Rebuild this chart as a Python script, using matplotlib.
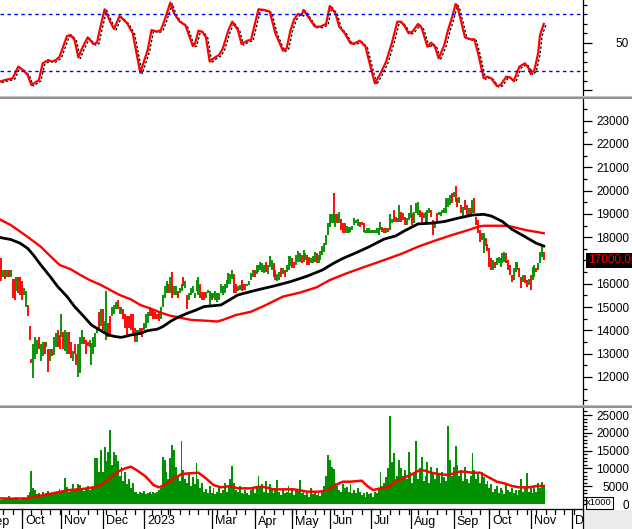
import numpy as np
import pandas as pd
import matplotlib
matplotlib.use('Agg')
import matplotlib.pyplot as plt
from matplotlib.transforms import blended_transform_factory, offset_copy
from matplotlib.patches import Rectangle
from matplotlib.lines import Line2D

plt.rcParams['font.family'] = ['Liberation Sans', 'DejaVu Sans']

# ---------------- data ----------------
holidays = ['2022-09-01', '2022-09-02', '2023-01-02', '2023-01-20', '2023-01-23',
            '2023-01-24', '2023-01-25', '2023-01-26', '2023-05-01', '2023-05-02',
            '2023-05-03', '2023-09-01', '2023-09-04']
first_bar = '2022-09-15'

tick_months = ['2022-09', '2022-10', '2022-11', '2022-12', '2023-01', '2023-03', '2023-04',
               '2023-05', '2023-06', '2023-07', '2023-08', '2023-09', '2023-10', '2023-11', '2023-12']
month_labels = ['Sep', 'Oct', 'Nov', 'Dec', '2023', 'Mar', 'Apr', 'May', 'Jun', 'Jul',
                'Aug', 'Sep', 'Oct', 'Nov', 'Dec']

# price bars, thousands VND
low_k = [
    16.2, 16.1, 16.3, 16.2, 16.3, 16.3, 16.3, 15.4, 15.3, 15.7,
    15.6, 15.5, 15.3, 15.5, 15.0, 14.6, 13.6, 12.6, 11.94, 12.75,
    13.0, 13.2, 12.7, 12.9, 13.0, 13.3, 12.2, 12.7, 12.9, 12.95,
    13.3, 13.3, 13.2, 13.7, 13.2, 13.1, 13.0, 13.0, 12.8, 12.7,
    13.0, 12.5, 12.0, 12.15, 13.4, 13.4, 13.0, 13.35, 13.3, 12.5,
    13.0, 13.3, 13.9, 14.1, 14.2, 14.0, 13.9, 13.6, 13.7, 13.8,
    14.6, 14.7, 14.9, 14.9, 14.7, 14.7, 14.5, 14.1, 13.8, 14.1,
    14.0, 13.9, 13.5, 13.5, 13.8, 13.8, 13.7, 14.0, 14.1, 14.3,
    14.6, 14.6, 14.5, 14.5, 14.5, 14.4, 14.5, 15.0, 15.4, 15.6,
    15.6, 15.6, 15.4, 15.5, 15.5, 15.4, 15.6, 15.7, 15.9, 15.8,
    14.9, 15.3, 15.5, 15.6, 15.4, 15.7, 15.5, 15.4, 15.3, 15.3,
    15.4, 15.6, 15.1, 15.3, 15.4, 15.3, 15.2, 15.3, 15.6, 15.5,
    15.6, 15.8, 16.0, 16.0, 16.2, 15.6, 15.6, 15.7, 15.75, 15.7,
    15.75, 15.75, 15.9, 15.95, 16.16, 16.3, 16.3, 16.4, 16.5, 16.6,
    16.5, 16.45, 16.5, 16.4, 16.7, 16.6, 16.3, 16.16, 16.1, 16.16,
    16.3, 16.4, 16.3, 16.5, 16.6, 16.75, 16.66, 16.66, 16.8, 16.95,
    16.95, 16.88, 16.95, 17.0, 16.8, 16.8, 16.88, 16.9, 16.95, 16.88,
    16.88, 17.0, 17.23, 17.38, 17.67, 18.1, 18.45, 18.6, 18.6, 18.45,
    18.6, 18.6, 18.3, 18.2, 18.2, 18.2, 18.16, 18.24, 18.3, 18.52,
    18.6, 18.5, 18.45, 18.52, 18.24, 18.16, 18.2, 18.16, 18.16, 18.16,
    18.16, 18.2, 18.1, 18.3, 18.24, 18.17, 18.17, 18.24, 18.3, 18.6,
    18.67, 18.67, 18.67, 18.67, 18.67, 18.74, 18.52, 18.52, 18.74, 18.81,
    18.52, 18.6, 19.02, 18.95, 18.88, 18.67, 18.81, 18.6, 18.67, 19.02,
    18.88, 18.1, 18.38, 18.67, 18.95, 18.9, 19.02, 19.02, 19.02, 19.3,
    19.38, 19.45, 19.74, 19.52, 19.31, 19.45, 19.02, 18.88, 19.17, 18.95,
    18.95, 18.95, 19.02, 19.02, 18.52, 18.17, 17.81, 17.88, 17.3, 17.6,
    17.4, 16.74, 16.59, 16.59, 16.66, 16.81, 16.88, 16.74, 16.88, 16.95,
    16.88, 16.59, 16.38, 16.09, 16.16, 16.52, 16.59, 16.31, 15.81, 16.09,
    16.02, 15.88, 15.95, 15.73, 16.16, 16.31, 16.52, 16.59, 16.88, 17.16,
    17.0]
high_k = [
    17.8, 17.1, 16.6, 16.6, 16.6, 16.6, 16.6, 16.2, 16.2, 16.3,
    16.3, 16.3, 16.1, 15.8, 15.7, 15.1, 14.2, 12.75, 13.4, 13.7,
    13.6, 13.7, 13.4, 13.5, 13.5, 13.5, 13.2, 13.2, 13.2, 13.7,
    13.9, 14.0, 13.8, 14.7, 13.95, 14.0, 13.95, 13.95, 13.5, 13.1,
    13.4, 13.0, 13.4, 13.7, 14.0, 13.7, 13.6, 13.5, 13.6, 13.45,
    13.7, 13.9, 14.1, 14.8, 14.9, 14.9, 14.4, 15.7, 14.3, 14.6,
    15.0, 15.1, 15.2, 15.3, 15.0, 15.0, 14.9, 14.7, 14.6, 14.6,
    14.7, 14.7, 14.1, 14.0, 14.0, 14.1, 14.1, 14.3, 14.7, 14.8,
    15.0, 14.9, 14.9, 14.8, 14.7, 14.8, 15.0, 15.5, 15.9, 16.1,
    16.0, 16.3, 16.5, 15.9, 15.9, 15.7, 15.8, 16.0, 16.3, 16.1,
    15.5, 15.6, 15.8, 15.9, 15.6, 16.16, 16.3, 16.0, 15.65, 15.65,
    15.65, 15.75, 15.7, 15.6, 15.6, 15.7, 15.6, 15.6, 16.0, 15.9,
    16.0, 16.16, 16.45, 16.4, 16.6, 16.4, 16.0, 15.9, 15.95, 16.16,
    16.0, 16.0, 16.0, 16.1, 16.45, 16.6, 16.6, 16.8, 16.8, 16.95,
    16.9, 16.8, 16.95, 16.8, 17.2, 17.0, 16.9, 16.6, 16.4, 16.5,
    16.66, 16.66, 16.6, 16.8, 17.2, 17.2, 17.1, 16.95, 17.25, 17.4,
    17.3, 17.23, 17.45, 17.3, 17.23, 17.16, 17.09, 17.2, 17.38, 17.3,
    17.23, 17.4, 17.6, 17.74, 18.1, 18.6, 19.0, 19.0, 19.9, 19.0,
    19.0, 19.1, 18.8, 18.6, 18.6, 18.5, 18.45, 18.45, 18.5, 18.81,
    18.74, 18.8, 18.67, 18.67, 18.6, 18.3, 18.4, 18.38, 18.3, 18.3,
    18.3, 18.4, 18.38, 18.67, 18.45, 18.38, 18.38, 18.38, 19.0, 18.8,
    19.17, 18.88, 18.81, 19.38, 19.1, 19.02, 18.88, 18.81, 19.02, 19.38,
    19.02, 19.1, 19.45, 19.52, 19.17, 19.1, 19.02, 19.1, 19.17, 19.24,
    19.17, 18.74, 18.67, 19.02, 19.1, 19.1, 19.17, 19.24, 19.67, 19.7,
    19.8, 19.88, 19.95, 20.2, 19.67, 19.74, 19.38, 19.31, 19.6, 19.38,
    19.24, 19.24, 19.6, 19.67, 18.88, 18.74, 18.3, 18.17, 18.17, 17.95,
    17.7, 17.52, 17.09, 17.02, 16.95, 17.09, 17.16, 17.09, 17.3, 17.38,
    17.3, 17.02, 16.81, 16.38, 16.66, 16.95, 16.95, 16.66, 16.31, 16.38,
    16.38, 16.16, 16.2, 16.38, 16.74, 16.81, 16.66, 16.88, 17.38, 17.6,
    17.38]
bar_dir = ("rrgrgrgrrg" "rrrggrrrgg" "grggrgrgrg" "grrgrggrrg" "rrgggrrrgg"
           "gggrgrggrr" "gggrggrrrr" "rrrggrrggg" "rrrrrrgggg" "rgrggrggrg"
           "rggggggrrr" "gggrgggggg" "gggggrrggr" "rrggggrggg" "ggrgggrrgg"
           "rgrgggrrgg" "grggrrgggr" "ggggggggrg" "rgrrrggggg" "ggrrrggggg"
           "ggggrrgrgg" "rgrgrrrggg" "rgggrrgrgg" "rrgrgggggg" "grgrrgrgrr"
           "grgrrrrggr" "rrrgrggggg" "rrrrgggrrg" "rrgrggrggg" "r")
last_close = 17000

# moving averages on price (bar index, thousands)
ma_black_idx = [0, 6, 11, 15, 18, 22, 27, 31, 36, 40, 45, 49, 54, 58, 62, 65, 70, 75, 79, 84, 87,
                91, 95, 100, 104, 109, 118, 127, 137, 146, 155, 164, 172, 178, 183, 190, 197,
                205, 211, 216, 223, 230, 237, 244, 252, 258, 262, 268, 273, 280, 286, 290]
ma_black_k = [17.99, 17.9, 17.74, 17.52, 17.24, 16.81, 16.31, 15.88, 15.45, 15.02, 14.59, 14.23,
              13.99, 13.80, 13.73, 13.70, 13.80, 13.87, 13.99, 14.05, 14.16, 14.38, 14.56, 14.73,
              14.85, 15.02, 15.09, 15.52, 15.73, 15.9, 16.09, 16.33, 16.59, 16.88, 17.09, 17.33,
              17.59, 17.92, 18.05, 18.28, 18.57, 18.6, 18.67, 18.81, 18.95, 18.98, 18.91, 18.67,
              18.34, 18.02, 17.74, 17.62]
ma_red_idx = [0, 6, 11, 16, 22, 27, 32, 38, 43, 48, 54, 59, 64, 70, 75, 80, 86, 91, 96, 102, 109,
              116, 119, 126, 134, 142, 151, 160, 169, 176, 185, 194, 205, 214, 223, 232, 241,
              250, 255, 258, 269, 273, 280, 290]
ma_red_k = [18.77, 18.52, 18.24, 17.95, 17.59, 17.19, 16.81, 16.62, 16.38, 16.16, 15.95, 15.73,
            15.52, 15.33, 15.09, 14.95, 14.76, 14.63, 14.55, 14.45, 14.42, 14.38, 14.45, 14.66,
            14.80, 15.09, 15.45, 15.62, 15.85, 16.16, 16.45, 16.71, 17.02, 17.28, 17.59, 17.85,
            18.09, 18.31, 18.45, 18.49, 18.49, 18.45, 18.31, 18.17]

# volume (x1000)
volume = (
    [1500, 1200, 1800, 1400, 1300, 2200, 1500, 1600, 1400, 2000, 1800, 1200, 1500, 1700, 1300, 2400]
    + [3500, 9200, 4500]
    + [3800, 2800, 3000, 2600, 3300, 2500, 3000, 3600, 2800, 3200, 2700, 3500, 3000, 4200, 3400]
    + [3800, 7400, 4800, 3500, 4200, 5500, 3900, 4600, 5600, 5400, 4300, 3600, 4100, 5200, 3800, 4500, 5000]
    + [12800, 13000, 9000, 15300, 9000, 16000, 12000, 14500, 20800, 11000, 14700, 13700, 12000, 8000,
       10500, 6500, 9000, 5500, 7000, 4500, 6000, 3500]
    + [3300, 2800, 3500, 3000, 3600, 2700, 3200, 3400, 2900, 3500, 3100, 3300, 3800, 4500]
    + [13300, 12500, 9000, 7000, 13000, 16500, 15200, 10500, 8000, 6500, 17800, 9500, 7000, 6000, 8500,
       5000, 7500, 5500, 11400, 7000, 4500, 5800, 3500, 4200, 3000, 5000]
    + [3000, 4500, 2800, 3500, 5200, 3000, 4000, 6000, 3500, 4800, 7000, 10700, 6000]
    + [4000, 3500, 5000, 3000, 2700, 4000, 3200, 2500, 3800, 4500, 3000, 5000]
    + [7900, 4500, 5500, 3500, 6500, 3000, 5500, 4000, 3000, 4500, 6800, 3500, 2500, 4000, 3000, 3500, 5000]
    + [3000, 4500, 2500, 3800, 4200, 6700, 3000, 3500]
    + [2500, 3000, 2000, 4500, 2800, 3500, 2500, 3000, 2200, 3500]
    + [5000, 8000, 13800, 12400, 10500, 9800, 6000, 5000, 4000, 3500, 5500, 4500, 4800, 3500, 5500,
       3200, 4000, 3000, 4500, 3500]
    + [2500, 3200, 2000, 3500, 2800, 3000, 2000, 3500, 3000, 4500]
    + [9100, 5000, 6000, 7500, 10000, 24700, 11900, 14200, 7000, 8000, 12500, 10000, 8000, 9500, 7000,
       14700, 9000, 6000, 8500, 17700, 7000, 10000, 13300, 6500, 8000, 11900, 6000, 10500, 9000, 7000,
       10000, 8500, 6000, 9000, 7500, 6500, 21900, 12300, 8000, 10500, 16300, 11000, 8000, 9500, 6500,
       10500, 7000, 6000, 8000, 14200, 9500, 7000, 8500, 6000, 9000, 7500, 5500, 6500]
    + [4500, 5500, 3500, 4200, 5000, 3000, 4500, 3800, 2800, 5300, 4000, 3500, 4500, 3000, 4000, 2500,
       3800, 7000, 3500, 4500, 8600, 3500, 4500, 3000, 5000, 3500, 6000, 4500, 6300, 5000])

vol_ma_idx = [0, 7, 15, 18, 24, 30, 37, 43, 50, 54, 58, 63, 67, 70, 73, 78, 82, 85, 88, 93, 97, 101,
              106, 110, 114, 118, 123, 127, 134, 138, 142, 146, 151, 157, 164, 170, 174, 179, 183,
              187, 193, 196, 199, 203, 207, 211, 215, 219, 224, 227, 230, 234, 239, 242, 245, 248,
              252, 256, 260, 265, 269, 273, 277, 282, 286, 290]
vol_ma = [1590, 1500, 1590, 2060, 2530, 3180, 3930, 4120, 4680, 5340, 6740, 9080, 10020, 10480,
          9550, 7680, 5340, 4680, 5340, 7210, 8420, 8610, 8800, 7210, 5340, 4680, 5050, 4400, 4400,
          4870, 4680, 4120, 4120, 4120, 3460, 3460, 3740, 5340, 6270, 6270, 6550, 5050, 3930, 4400,
          4680, 6270, 7210, 8140, 9550, 9360, 8800, 8420, 8140, 8610, 9080, 9080, 8800, 8800, 7680,
          6270, 5800, 5050, 4680, 4680, 5050, 5050]

# RSI
rsi_idx = [0, 3, 7, 10, 13, 15, 17, 21, 23, 26, 28, 30, 32, 36, 38, 40, 42, 44, 47, 50,
           52, 53, 56, 59, 61, 64, 68, 71, 75, 79, 81, 84, 86, 88, 91, 93, 96, 99, 103, 104,
           106, 108, 110, 112, 114, 117, 119, 122, 124, 127, 129, 132, 134, 138, 141, 144, 147, 151, 153, 155,
           157, 159, 161, 162, 165, 168, 171, 174, 175, 176, 179, 181, 184, 187, 189, 192, 195, 197, 200, 203,
           206, 209, 212, 214, 216, 218, 220, 223, 225, 228, 230, 232, 234, 237, 239, 241, 243, 244, 246, 248,
           251, 253, 255, 258, 260, 262, 265, 267, 270, 272, 274, 277, 280, 282, 283, 285, 287, 288, 290]
rsi_val = [8.8, 10.6, 12.3, 24.7, 20.4, 15.9, 5.3, 10.6, 28.2, 31.7, 30.0, 31.7, 35.2, 57.1, 58.1, 52.9, 34.5, 44.0, 55.7, 48.6,
           50.0, 59.9, 85.3, 72.2, 64.5, 78.2, 70.5, 59.9, 18.3, 42.3, 63.4, 61.7, 63.4, 74.0, 92.3, 81.0, 72.2, 68.7, 46.5, 47.6,
           62.7, 61.7, 55.7, 30.0, 33.5, 37.0, 44.0, 63.4, 72.2, 63.4, 48.6, 52.1, 52.9, 85.3, 84.6, 82.8, 59.9, 41.6, 44.0, 62.7,
           74.7, 80.3, 79.3, 84.6, 75.8, 67.0, 67.0, 69.8, 79.3, 88.8, 81.0, 67.0, 59.9, 49.3, 49.3, 52.1, 45.8, 30.0, 7.0, 17.5,
           30.0, 49.3, 72.2, 72.2, 67.0, 59.9, 61.7, 69.8, 65.2, 45.8, 50.0, 45.8, 33.5, 47.6, 63.4, 75.8, 90.9, 88.1, 72.2, 55.7,
           53.6, 53.6, 38.8, 12.3, 14.1, 12.3, 4.2, 5.3, 14.1, 13.4, 9.5, 24.7, 28.2, 22.9, 16.9, 21.1, 38.8, 58.1, 69.8]
rsi_levels = [80, 20]

# ---------------- calendar ----------------
days = pd.bdate_range('2022-09-01', '2023-12-29')
days = days[~days.isin(pd.to_datetime(holidays))]
pos0 = days.get_loc(pd.Timestamp(first_bar))
day_pos = np.arange(len(days)) - pos0
n_bars = len(low_k)
x = np.arange(n_bars)

XL, XR = 0.27, 310.9

W, H = 632, 529
fig = plt.figure(figsize=(W / 100, H / 100), dpi=100)


def add_ax(top, bottom):
    return fig.add_axes([0, 1 - bottom / H, 583 / W, (bottom - top) / H])


ax_r = add_ax(0, 96)
ax_p = add_ax(99, 404)
ax_v = add_ax(408, 509)

GREEN = '#009000'
RED = '#ff0000'
FS = 8.5

for ax in (ax_r, ax_p, ax_v):
    ax.set_xlim(XL, XR)
    ax.set_xticks([])
    ax.yaxis.tick_right()
    for s in ('left', 'top', 'bottom'):
        ax.spines[s].set_visible(False)
    ax.spines['right'].set_linewidth(0.9)
    ax.tick_params(axis='y', which='major', direction='out', length=6.5, width=0.9,
                   pad=26.6, labelsize=FS, colors='black')
    ax.tick_params(axis='y', which='minor', direction='out', length=2.6, width=0.9)
    ax.patch.set_alpha(0)

# ---- RSI panel ----
ax_r.set_ylim(-6.3, 95.1)
ax_r.plot(rsi_idx, rsi_val, color='black', lw=0.9, ls=(0, (2, 1.5)),
          transform=offset_copy(ax_r.transData, fig, x=2, y=-1, units='dots'))
ax_r.plot(rsi_idx, rsi_val, color=RED, lw=1.6)
for lv in rsi_levels:
    ax_r.axhline(lv, color='#0000ff', lw=1.0, ls=(0, (2.5, 2.5)))
ax_r.set_yticks([0, 50])
ax_r.set_yticklabels(['', '50'])
ax_r.set_yticks([10, 20, 30, 40, 60, 70, 80, 90], minor=True)

# ---- price panel ----
lows = np.array(low_k) * 1000
highs = np.array(high_k) * 1000
cols = [GREEN if c == 'g' else RED for c in bar_dir]
ax_p.vlines(x, lows, highs, colors=cols, lw=1.35)
ax_p.plot(ma_red_idx, np.array(ma_red_k) * 1000, color=RED, lw=1.7)
ax_p.plot(ma_black_idx, np.array(ma_black_k) * 1000, color='black', lw=2.0)
ax_p.set_ylim(10840, 23930)
ax_p.set_yticks(np.arange(12000, 23001, 1000))
ax_p.set_yticks(np.arange(11000, 23600, 500), minor=True)
ax_p.text(588 / 583, last_close, f'{last_close:.2f}', color=RED, fontsize=FS,
          transform=blended_transform_factory(ax_p.transAxes, ax_p.transData),
          ha='left', va='center', clip_on=False,
          bbox=dict(facecolor='black', edgecolor='none', boxstyle='square,pad=0.15'))

# ---- volume panel ----
ax_v.bar(x, volume, width=1.0, color=GREEN, linewidth=0)
ax_v.plot(vol_ma_idx, vol_ma, color=RED, lw=1.8)
ax_v.set_ylim(-1400, 26970)
ax_v.set_yticks(np.arange(0, 25001, 5000))
ax_v.set_yticks(np.arange(0, 26001, 1000), minor=True)
ax_v.spines['bottom'].set_visible(True)
ax_v.spines['bottom'].set_linewidth(0.9)

for ax in (ax_r, ax_p, ax_v):
    for t in ax.get_yticklabels():
        t.set_horizontalalignment('right')

# ---- date axis ----
bt = blended_transform_factory(ax_v.transData, ax_v.transAxes)
month_pos = []
for m in tick_months:
    y, mo = int(m[:4]), int(m[5:])
    sel = (days.year == y) & (days.month == mo)
    month_pos.append(day_pos[np.argmax(sel)])
week_key = days.to_period('W')
week_first = day_pos[np.r_[True, week_key[1:] != week_key[:-1]]]
for wp in week_first:
    if XL < wp < XR:
        ax_v.plot([wp, wp], [0, -5 / 101], color='black', lw=0.9, transform=bt, clip_on=False)
for mp, lab in zip(month_pos, month_labels):
    if mp < XR:
        ax_v.plot([mp, mp], [0, -21 / 101], color='black', lw=0.9, transform=bt, clip_on=False)
        ax_v.annotate(lab, xy=(mp, 0), xycoords=bt, xytext=(2.2, -9.0), textcoords='offset points',
                      ha='left', va='center', fontsize=9, color='black', annotation_clip=False)

# ---- separators and decorations ----
for ylight, ydark in ((96.3, 97.6), (405.3, 406.6)):
    fig.add_artist(Line2D([0, 1], [1 - ylight / H] * 2, color='#c4c4c4', lw=0.8))
    fig.add_artist(Line2D([0, 1], [1 - ydark / H] * 2, color='#707070', lw=1.1))

fig.add_artist(Rectangle((584 / W, 0), 48 / W, 19.5 / H, facecolor='#ebebeb',
                         edgecolor='none', zorder=5))
fig.add_artist(Line2D([583 / W] * 2, [0, 20 / H], color='black', lw=0.9, zorder=6))
fig.add_artist(Rectangle((585.5 / W, 1 - 508.5 / H), 27.5 / W, 11.5 / H, facecolor='white',
                         edgecolor='black', lw=0.8, zorder=6))
fig.text(599.2 / W, 1 - 502.7 / H, 'x1000', fontsize=6.8, ha='center', va='center', zorder=7)

fig.savefig('out.png', dpi=100)
